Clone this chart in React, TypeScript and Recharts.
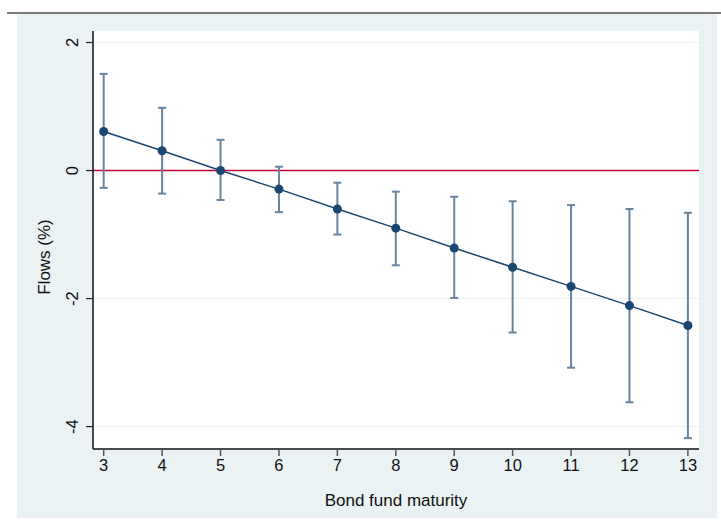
import React from 'react';
import {
  ComposedChart,
  Line,
  XAxis,
  YAxis,
  CartesianGrid,
  ReferenceLine,
  ErrorBar,
} from 'recharts';

// Bond fund maturity (years) and estimated flows (%) with confidence bounds
const maturity = [3, 4, 5, 6, 7, 8, 9, 10, 11, 12, 13];
const flows = [0.61, 0.31, 0.0, -0.29, -0.6, -0.9, -1.21, -1.51, -1.81, -2.11, -2.42];
const upperBound = [1.51, 0.98, 0.48, 0.06, -0.19, -0.33, -0.41, -0.48, -0.54, -0.6, -0.66];
const lowerBound = [-0.27, -0.36, -0.46, -0.65, -1.0, -1.48, -1.99, -2.53, -3.08, -3.62, -4.18];

const xTicks = [3, 4, 5, 6, 7, 8, 9, 10, 11, 12, 13];
const yTicks = [-4, -2, 0, 2];

const rows = maturity.map((m, i) => ({
  maturity: m,
  flow: flows[i],
  err: [flows[i] - lowerBound[i], upperBound[i] - flows[i]],
}));

const FONT = '"Liberation Sans", Arial, Helvetica, sans-serif';
const NAVY = '#1a476f';
const BAR = '#68849f';
const BG = '#eaf2f3';
const TICK_FS = 16.5;

const YTick = (props: any) => {
  const { x, y, payload } = props;
  const cx = x - 12;
  return (
    <text
      x={cx}
      y={y}
      transform={`rotate(-90 ${cx} ${y})`}
      textAnchor="middle"
      dominantBaseline="central"
      fontFamily={FONT}
      fontSize={TICK_FS}
      fill="#111"
    >
      {payload.value}
    </text>
  );
};

export default function App() {
  return (
    <div style={{ position: 'absolute', left: 0, top: 0, width: 721, height: 523, background: '#fff' }}>
      <div style={{ position: 'absolute', left: 7, top: 12, width: 714, height: 1.5, background: '#7a7a7a' }} />
      <div style={{ position: 'absolute', left: 17, top: 13.5, width: 700, height: 504, background: BG }} />
      <div style={{ position: 'absolute', left: 0, top: 0 }}>
        <ComposedChart
          width={721}
          height={523}
          data={rows}
          margin={{ top: 31, right: 22, bottom: 44, left: 33 }}
        >
          <CartesianGrid fill="#ffffff" vertical={false} stroke={BG} strokeWidth={1} horizontalValues={yTicks} />
          <XAxis
            type="number"
            dataKey="maturity"
            domain={[2.817, 13.19]}
            ticks={xTicks}
            allowDataOverflow
            height={30}
            tickSize={7}
            tickMargin={3}
            stroke="#222"
            tickLine={{ stroke: '#555', strokeWidth: 1.5 }}
            axisLine={{ stroke: '#111', strokeWidth: 1.5 }}
            tick={{ fontFamily: FONT, fontSize: TICK_FS, fill: '#111' }}
          />
          <YAxis
            type="number"
            domain={[-4.35, 2.18]}
            ticks={yTicks}
            allowDataOverflow
            width={60}
            tickSize={7}
            tickLine={{ stroke: '#222', strokeWidth: 1.2 }}
            axisLine={{ stroke: '#111', strokeWidth: 1.5 }}
            tick={<YTick />}
          />
          <ReferenceLine y={0} stroke="#c10534" strokeWidth={1.5} />
          <Line
            dataKey="flow"
            stroke={NAVY}
            strokeWidth={1.5}
            dot={{ r: 4.5, fill: NAVY, stroke: NAVY, strokeWidth: 0 }}
            activeDot={false}
            isAnimationActive={false}
          >
            <ErrorBar dataKey="err" direction="y" width={4} stroke={BAR} strokeWidth={2} isAnimationActive={false} />
          </Line>
        </ComposedChart>
      </div>
      <div
        style={{
          position: 'absolute',
          left: 396,
          top: 501,
          transform: 'translate(-50%, -50%)',
          fontFamily: FONT,
          fontSize: 17,
          color: '#111',
          whiteSpace: 'nowrap',
        }}
      >
        Bond fund maturity
      </div>
      <div
        style={{
          position: 'absolute',
          left: 45,
          top: 257,
          transform: 'translate(-50%, -50%) rotate(-90deg)',
          fontFamily: FONT,
          fontSize: 17,
          color: '#111',
          whiteSpace: 'nowrap',
        }}
      >
        Flows (%)
      </div>
    </div>
  );
}
